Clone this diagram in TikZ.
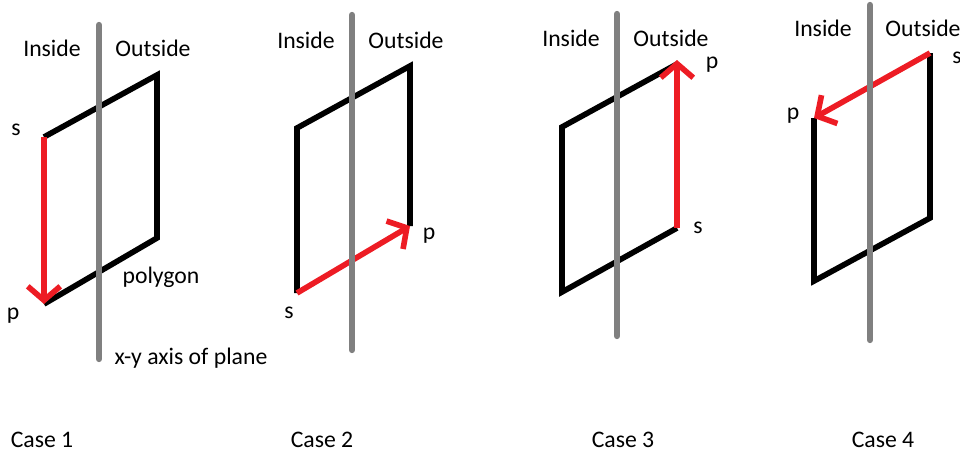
\documentclass[tikz,border=0pt]{standalone}
\usepackage{fontspec}
\setmainfont{Carlito}
\usetikzlibrary{arrows.meta}
\definecolor{paintred}{RGB}{237,28,36}
\definecolor{axisgray}{RGB}{128,128,128}

\begin{document}
\begin{tikzpicture}[
  x=0.2mm, y=-0.2mm,
  every node/.style={font=\fontsize{13.5}{16}\selectfont, inner sep=0pt},
  axisline/.style={draw=axisgray, line width=3.6pt, line cap=round},
  polyline/.style={draw=black, line width=3.2pt, line join=miter},
  movearrow/.style={draw=paintred, line width=3.2pt, -{Straight Barb[length=2.8mm, width=6.5mm]}}
]
\useasboundingbox (0,0) rectangle (960,456);

% case 1
\coordinate (a1) at (44,137);
\coordinate (b1) at (157,75);
\coordinate (c1) at (157,238);
\coordinate (d1) at (44,304);
\draw[polyline] (a1) -- (b1) -- (c1) -- (d1);
\draw[movearrow] (a1) -- (d1);
\coordinate (t1) at (99,25);
\coordinate (u1) at (99,359);
\draw[axisline] (t1) -- (u1);
\node (in1) at (52,48) {Inside};
\node (out1) at (153,48) {Outside};
\node (s1) at (16,130) {s};
\node (p1) at (13,316) {p};
\node (poly) at (161,277) {polygon};
\node (plane) at (191,358) {x-y axis of plane};
\node (case1) at (42,440) {Case 1};

% case 2
\coordinate (a2) at (297,128);
\coordinate (b2) at (410,66);
\coordinate (c2) at (410,226);
\coordinate (d2) at (297,293);
\draw[polyline] (c2) -- (b2) -- (a2) -- (d2);
\draw[movearrow] (d2) -- (c2);
\coordinate (t2) at (352,15);
\coordinate (u2) at (352,350);
\draw[axisline] (t2) -- (u2);
\node (in2) at (306,40) {Inside};
\node (out2) at (406,40) {Outside};
\node (s2) at (289,313) {s};
\node (p2) at (429,236) {p};
\node (case2) at (322,440) {Case 2};

% case 3
\coordinate (a3) at (562,127);
\coordinate (b3) at (677,64);
\coordinate (c3) at (677,228);
\coordinate (d3) at (562,292);
\draw[polyline] (b3) -- (a3) -- (d3) -- (c3);
\draw[movearrow] (c3) -- (677,60) coordinate (e3);
\coordinate (t3) at (617,14);
\coordinate (u3) at (617,336);
\draw[axisline] (t3) -- (u3);
\node (in3) at (571,38) {Inside};
\node (out3) at (671,38) {Outside};
\node (p3) at (712,65) {p};
\node (s3) at (698,228) {s};
\node (case3) at (623,440) {Case 3};

% case 4
\coordinate (a4) at (814,118);
\coordinate (b4) at (930,53);
\coordinate (c4) at (930,218);
\coordinate (d4) at (814,281);
\draw[polyline] (b4) -- (c4) -- (d4) -- (a4);
\draw[movearrow] (b4) -- (a4);
\coordinate (t4) at (870,5);
\coordinate (u4) at (870,340);
\draw[axisline] (t4) -- (u4);
\node (in4) at (823,28) {Inside};
\node (out4) at (923,28) {Outside};
\node (s4) at (957,58) {s};
\node (p4) at (793,116) {p};
\node (case4) at (883,440) {Case 4};
\end{tikzpicture}
\end{document}
